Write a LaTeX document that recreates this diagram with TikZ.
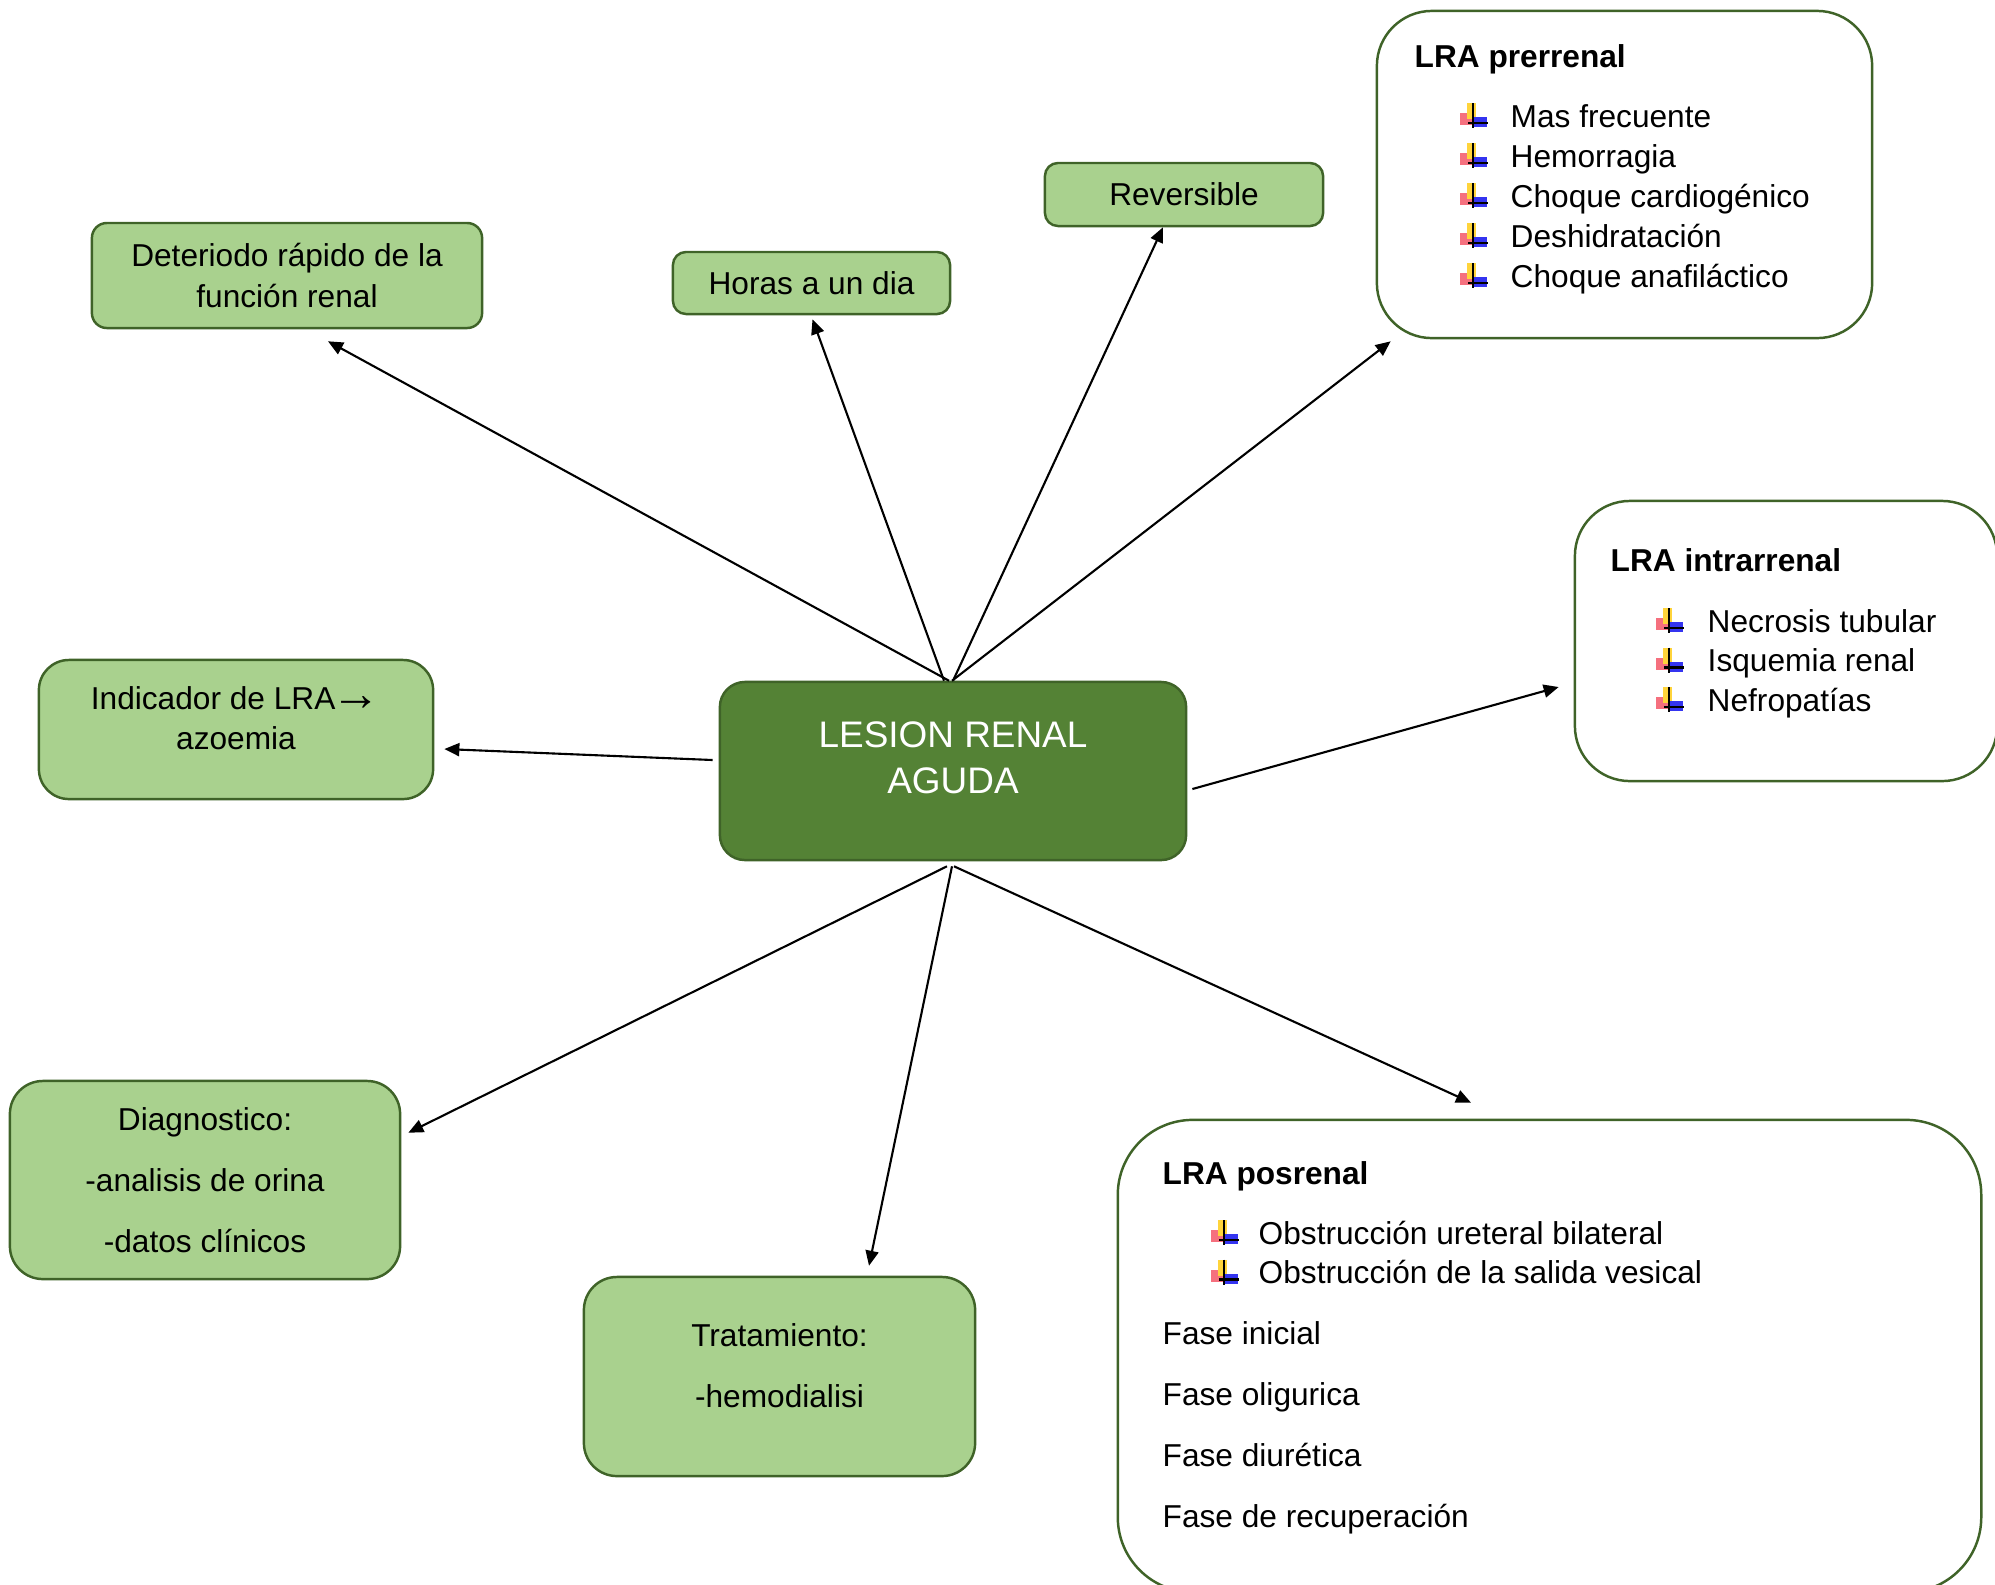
\documentclass[tikz,border=0pt]{standalone}
\usepackage{fontspec}
\setmainfont{Liberation Sans}
\usepackage{tikz}
\usetikzlibrary{arrows.meta}

\definecolor{verdeclaro}{HTML}{A9D18E}
\definecolor{verdeosc}{HTML}{548235}
\definecolor{borde}{HTML}{3F6328}
\definecolor{rojo}{HTML}{F5707E}
\definecolor{amarillo}{HTML}{FFD43B}
\definecolor{azul}{HTML}{3434F0}

\newcommand{\tam}{\fontsize{9}{11.4}\selectfont}

\tikzset{
  caja/.style={draw=borde, fill=verdeclaro, line width=0.7pt, align=center, inner sep=0pt, font=\tam},
  lista/.style={draw=borde, fill=white, line width=0.7pt, inner sep=0pt},
  titulo/.style={anchor=base west, inner sep=0pt, font=\tam\bfseries},
  item/.style={anchor=base west, inner sep=0pt, font=\tam},
  flecha/.style={-{Triangle[length=0.15cm, width=0.13cm]}, line width=0.6pt},
  cruz/.pic={
    \fill[rojo] (-14,-3) rectangle (-2,9);
    \fill[amarillo] (-7,-13) rectangle (2,3);
    \fill[azul] (-2,1) rectangle (13,11);
    \draw[line width=0.6pt] (-1,-13) -- (-1,12);
    \draw[line width=0.6pt] (-6,7) -- (14,7);
  }
}

\begin{document}
\begin{tikzpicture}[x=0.01cm, y=-0.01cm]
	\useasboundingbox (0,0) rectangle (1995,1584);

	% centro
	\node[draw=borde, fill=verdeosc, line width=0.7pt, rounded corners=0.25cm, minimum width=4.66cm, minimum height=1.78cm] (lesion) at (953,771) {};
	\node[text=white, align=center, font=\fontsize{10.5}{13}\selectfont] (lesiontxt) at (953,758) {LESION RENAL\\AGUDA};

	% cajas verdes
	\node[caja, rounded corners=0.15cm, minimum width=3.9cm, minimum height=1.05cm] (det) at (287,275.5) {Deteriodo rápido de la\\función renal};
	\node[caja, rounded corners=0.13cm, minimum width=2.77cm, minimum height=0.62cm] (horas) at (811.5,283) {Horas a un dia};
	\node[caja, rounded corners=0.13cm, minimum width=2.78cm, minimum height=0.63cm] (rev) at (1184,194.5) {Reversible};
	\node[caja, rounded corners=0.3cm, minimum width=3.94cm, minimum height=1.39cm] (ind) at (236,729.5) {};
	\node[align=center, font=\tam] (indtxt) at (236,718) {Indicador de LRA\hspace{-1pt}\raisebox{-0.3pt}{\fontsize{14}{11.4}\selectfont →}\\azoemia};
	\node[caja, rounded corners=0.33cm, minimum width=3.9cm, minimum height=1.98cm, font=\fontsize{9}{17.3}\selectfont] (diag) at (205,1180) {Diagnostico:\\-analisis de orina\\-datos clínicos};
	\node[caja, rounded corners=0.33cm, minimum width=3.91cm, minimum height=1.99cm] (trat) at (779.5,1376.5) {};
	\node[align=center, font=\fontsize{9}{17.3}\selectfont] (trattxt) at (779.5,1365.5) {Tratamiento:\\-hemodialisi};

	% LRA prerrenal
	\node[lista, rounded corners=0.55cm, minimum width=4.95cm, minimum height=3.27cm] (pre) at (1624.5,174.5) {};
	\node[titulo] (pretit) at (1414,67) {LRA prerrenal};
	\foreach \txt [count=\i from 0] in {Mas frecuente, Hemorragia, Choque cardiogénico, Deshidratación, Choque anafiláctico}{
		\pic at (1474,116+40*\i) {cruz};
		\node[item] (pre\i) at (1510,127+40*\i) {\txt};
	}

	% LRA intrarrenal
	\node[lista, rounded corners=0.55cm, minimum width=4.22cm, minimum height=2.8cm] (intra) at (1786,641) {};
	\node[titulo] (intratit) at (1610,571) {LRA intrarrenal};
	\foreach \txt [count=\i from 0] in {Necrosis tubular, Isquemia renal, Nefropatías}{
		\pic at (1670,621+39.5*\i) {cruz};
		\node[item] (intra\i) at (1707,632+39.5*\i) {\txt};
	}

	% LRA posrenal
	\node[lista, rounded corners=0.75cm, minimum width=8.63cm, minimum height=4.72cm] (pos) at (1549.5,1356) {};
	\node[titulo] (postit) at (1162,1184) {LRA posrenal};
	\foreach \txt [count=\i from 0] in {Obstrucción ureteral bilateral, Obstrucción de la salida vesical}{
		\pic at (1225,1233+39.5*\i) {cruz};
		\node[item] (pos\i) at (1258,1244+39.5*\i) {\txt};
	}
	\foreach \txt [count=\i from 0] in {Fase inicial, Fase oligurica, Fase diurética, Fase de recuperación}{
		\node[item] (fase\i) at (1162,1344+61*\i) {\txt};
	}

	% flechas
	\draw[flecha] ([xshift=-0.04cm]lesion.north) -- ([shift={(41,12)}]det.south);
	\draw[flecha] ([xshift=-0.09cm]lesion.north) -- ([shift={(1,4)}]horas.south);
	\draw[flecha] (lesion.north) -- ([shift={(-21,0)}]rev.south);
	\draw[flecha] ([xshift=-0.01cm]lesion.north) -- ([shift={(15,2)}]pre.south west);
	\draw[flecha] ([shift={(-6,-11)}]lesion.west) -- ([shift={(10,19.5)}]ind.east);
	\draw[flecha] ([shift={(5,18)}]lesion.east) -- ([shift={(-15,46)}]intra.west);
	\draw[flecha] ([shift={(-6,5)}]lesion.south) -- ([shift={(7,53)}]diag.north east);
	\draw[flecha] ([shift={(-1,5)}]lesion.south) -- ([shift={(89.5,-10)}]trat.north);
	\draw[flecha] ([shift={(1,5)}]lesion.south) -- ([shift={(-78.5,-16)}]pos.north);
\end{tikzpicture}
\end{document}
